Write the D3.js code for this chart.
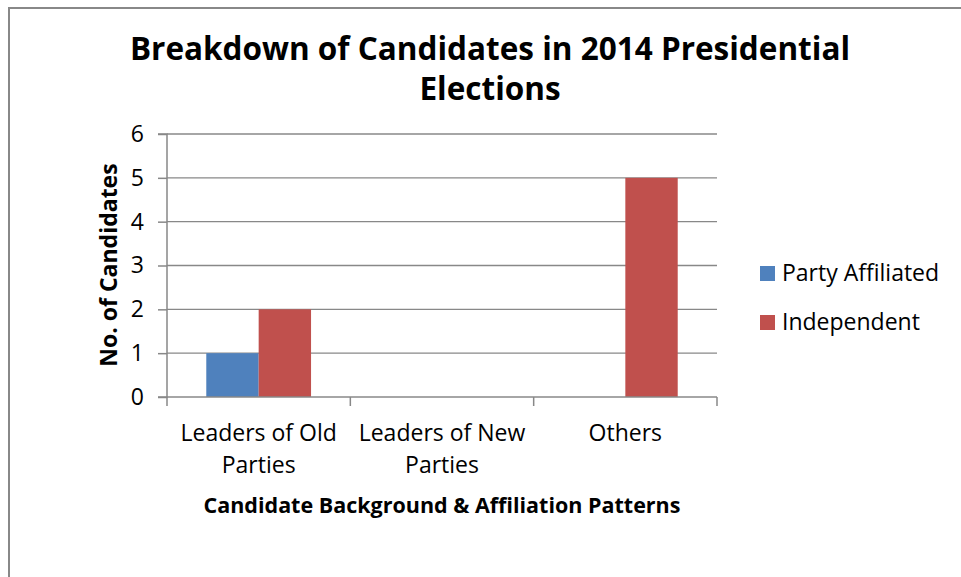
<!DOCTYPE html>
<html>
<head>
<meta charset="utf-8">
<script src="https://cdn.jsdelivr.net/npm/d3@7"></script>
<style>
  body { margin: 0; background: #fff; }
  text { font-family: "Open Sans", "Liberation Sans", sans-serif; fill: #000; }
</style>
</head>
<body>
<svg></svg>
<script>
const svgWidth = 961;
const svgHeight = 577;

// data
const categories = [["Leaders of Old", "Parties"], ["Leaders of New", "Parties"], ["Others"]];
const seriesNames = ["Party Affiliated", "Independent"];
const partyAffiliated = [1, 0, 0];
const independent = [2, 0, 5];
const yTicks = [0, 1, 2, 3, 4, 5, 6];
const colors = ["#4f81bd", "#c0504d"];

const svg = d3.select("svg")
    .attr("width", svgWidth)
    .attr("height", svgHeight);

// outer chart border (only top and left visible)
svg.append("path")
    .attr("d", "M9,577 V8 H961")
    .attr("fill", "none")
    .attr("stroke", "#888")
    .attr("stroke-width", 2);

const margin = {top: 134, left: 167};
const width = 717 - 167;
const height = 397 - 134;
const g = svg.append("g").attr("transform", "translate(" + margin.left + "," + margin.top + ")");

const x0 = d3.scaleBand()
    .domain(d3.range(categories.length))
    .range([0, width]);

// Excel gap width 150% -> bars take 2 / 3.5 of the band
const groupWidth = x0.bandwidth() * 2 / 3.5;
const x1 = d3.scaleBand()
    .domain(d3.range(seriesNames.length))
    .range([0, groupWidth]);

const y = d3.scaleLinear()
    .domain([0, 6])
    .range([height, 0]);

// gridlines
g.append("g")
    .selectAll("line")
    .data(yTicks.filter(d => d > 0))
    .join("line")
    .attr("x1", 0)
    .attr("x2", width)
    .attr("y1", d => y(d))
    .attr("y2", d => y(d))
    .attr("stroke", "#888")
    .attr("stroke-width", 1.3);

// bars
const rows = categories.map((c, i) => [partyAffiliated[i], independent[i]]);
g.append("g")
    .selectAll("g")
    .data(rows)
    .join("g")
    .attr("transform", (d, i) => "translate(" + (x0(i) + (x0.bandwidth() - groupWidth) / 2) + ",0)")
    .selectAll("rect")
    .data(d => d.map((v, k) => ({v, k})))
    .join("rect")
    .attr("x", d => x1(d.k))
    .attr("width", x1.bandwidth())
    .attr("y", d => y(d.v))
    .attr("height", d => height - y(d.v))
    .attr("fill", d => colors[d.k]);

// y axis
const yAxis = g.append("g")
    .call(d3.axisLeft(y).tickValues(yTicks).tickFormat(d3.format("d")).tickSize(9).tickPadding(14));
yAxis.selectAll("line, path").attr("stroke", "#888").attr("stroke-width", 1.5);
yAxis.select(".domain").attr("d", "M-9,0H0V" + height + "H-9");
yAxis.selectAll("text")
    .style("font-size", "23px")
    .attr("fill", "#000");

// x axis
const xAxis = g.append("g")
    .attr("transform", "translate(0," + height + ")");
xAxis.append("line")
    .attr("x1", 0).attr("x2", width)
    .attr("stroke", "#888").attr("stroke-width", 1.5);
xAxis.selectAll(".tk")
    .data(d3.range(categories.length + 1))
    .join("line")
    .attr("class", "tk")
    .attr("x1", d => d * x0.step()).attr("x2", d => d * x0.step())
    .attr("y1", 0).attr("y2", 9)
    .attr("stroke", "#888").attr("stroke-width", 1.5);

xAxis.selectAll(".cat")
    .data(categories)
    .join("text")
    .attr("class", "cat")
    .attr("text-anchor", "middle")
    .attr("transform", (d, i) => "translate(" + (x0(i) + x0.bandwidth() / 2) + ",44)")
    .style("font-size", "23px")
    .selectAll("tspan")
    .data(d => d)
    .join("tspan")
    .attr("x", 0)
    .attr("y", (d, i) => i * 32)
    .text(d => d);

// axis titles
svg.append("text")
    .attr("x", 442)
    .attr("y", 513)
    .attr("text-anchor", "middle")
    .style("font-size", "21.5px")
    .style("font-weight", "bold")
    .text("Candidate Background & Affiliation Patterns");

svg.append("text")
    .attr("transform", "translate(117,265) rotate(-90)")
    .attr("text-anchor", "middle")
    .style("font-size", "23px")
    .style("font-weight", "bold")
    .text("No. of Candidates");

// title, two lines
const titleLines = ["Breakdown of Candidates in 2014 Presidential", "Elections"];
svg.append("g")
    .selectAll("text")
    .data(titleLines)
    .join("text")
    .attr("x", 490)
    .attr("y", (d, i) => 60 + i * 40)
    .attr("text-anchor", "middle")
    .style("font-size", "31.5px")
    .style("font-weight", "bold")
    .text(d => d);

// legend
const legend = svg.append("g")
    .selectAll("g")
    .data(seriesNames)
    .join("g")
    .attr("transform", (d, i) => "translate(760," + (266 + i * 49) + ")");
legend.append("rect")
    .attr("width", 15)
    .attr("height", 15)
    .attr("fill", (d, i) => colors[i]);
legend.append("text")
    .attr("x", 22)
    .attr("y", 15)
    .style("font-size", "23px")
    .text(d => d);
</script>
</body>
</html>
